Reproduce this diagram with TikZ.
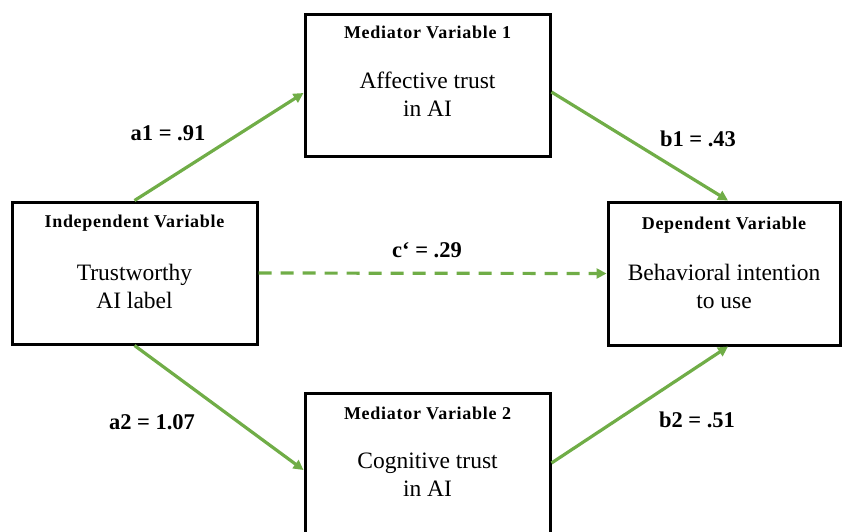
\documentclass[tikz,border=0pt]{standalone}
\usepackage{fontspec}
\setmainfont{Liberation Serif}
\newfontfamily\hdrfont[LetterSpace=4]{Liberation Serif}
\usetikzlibrary{arrows.meta,calc}
\definecolor{arrowgreen}{HTML}{70AD47}
\begin{document}
\begin{tikzpicture}[x=1pt,y=-1pt,
  box/.style={draw=black,line width=3pt,inner sep=0pt},
  hdr/.style={font=\hdrfont\bfseries\fontsize{18}{20}\selectfont,inner sep=0pt},
  body/.style={font=\fontsize{23.5}{28}\selectfont,align=center,inner sep=0pt},
  lbl/.style={font=\bfseries\fontsize{22.5}{26}\selectfont,inner sep=0pt},
  conn/.style={draw=arrowgreen,line width=3.2pt,-{Triangle[length=10pt,width=10pt]}}
]
\useasboundingbox (0,0) rectangle (842,531);
% boxes
\node[box,minimum width=245pt,minimum height=142pt] (iv) at (134.5,273) {};
\node[box,minimum width=245pt,minimum height=142pt] (m1) at (427.5,85) {};
\node[box,minimum width=245pt,minimum height=142pt] (m2) at (427.5,464) {};
\node[box,minimum width=232pt,minimum height=143pt] (dv) at (724,273.5) {};
% texts
\node[hdr] (ivh) at (134.5,223) {Independent Variable};
\node[body] (ivb) at (134.5,286) {Trustworthy\\AI label};
\node[hdr] (m1h) at (427.5,32) {Mediator Variable\hspace{0.3em}1};
\node[body] (m1b) at (427.5,94) {Affective trust\\in AI};
\node[hdr] (m2h) at (427.5,413) {Mediator Variable\hspace{0.3em}2};
\node[body] (m2b) at (427.5,475) {Cognitive trust\\in AI};
\node[hdr] (dvh) at (724,225) {Dependent Variable};
\node[body] (dvb) at (724,286.5) {Behavioral intention\\to use};
% labels
\node[lbl] (la1) at (168,133) {a1 = .91};
\node[lbl] (lb1) at (698,139) {b1 = .43};
\node[lbl] (lc) at (427,250) {c‘ = .29};
\node[lbl] (la2) at (152,422) {a2 = 1.07};
\node[lbl] (lb2) at (697,420) {b2 = .51};
% connectors
\draw[conn] (iv.north) -- ([yshift=-8pt]m1.west);
\draw[conn] ([yshift=-7pt]m1.east) -- ([xshift=4pt]dv.north);
\draw[conn,dash pattern=on 13pt off 9pt] (iv.east) -- (dv.west);
\draw[conn] (iv.south) -- ([yshift=-6pt]m2.west);
\draw[conn] ([yshift=1pt]m2.east) -- ([xshift=4pt]dv.south);
\end{tikzpicture}
\end{document}
